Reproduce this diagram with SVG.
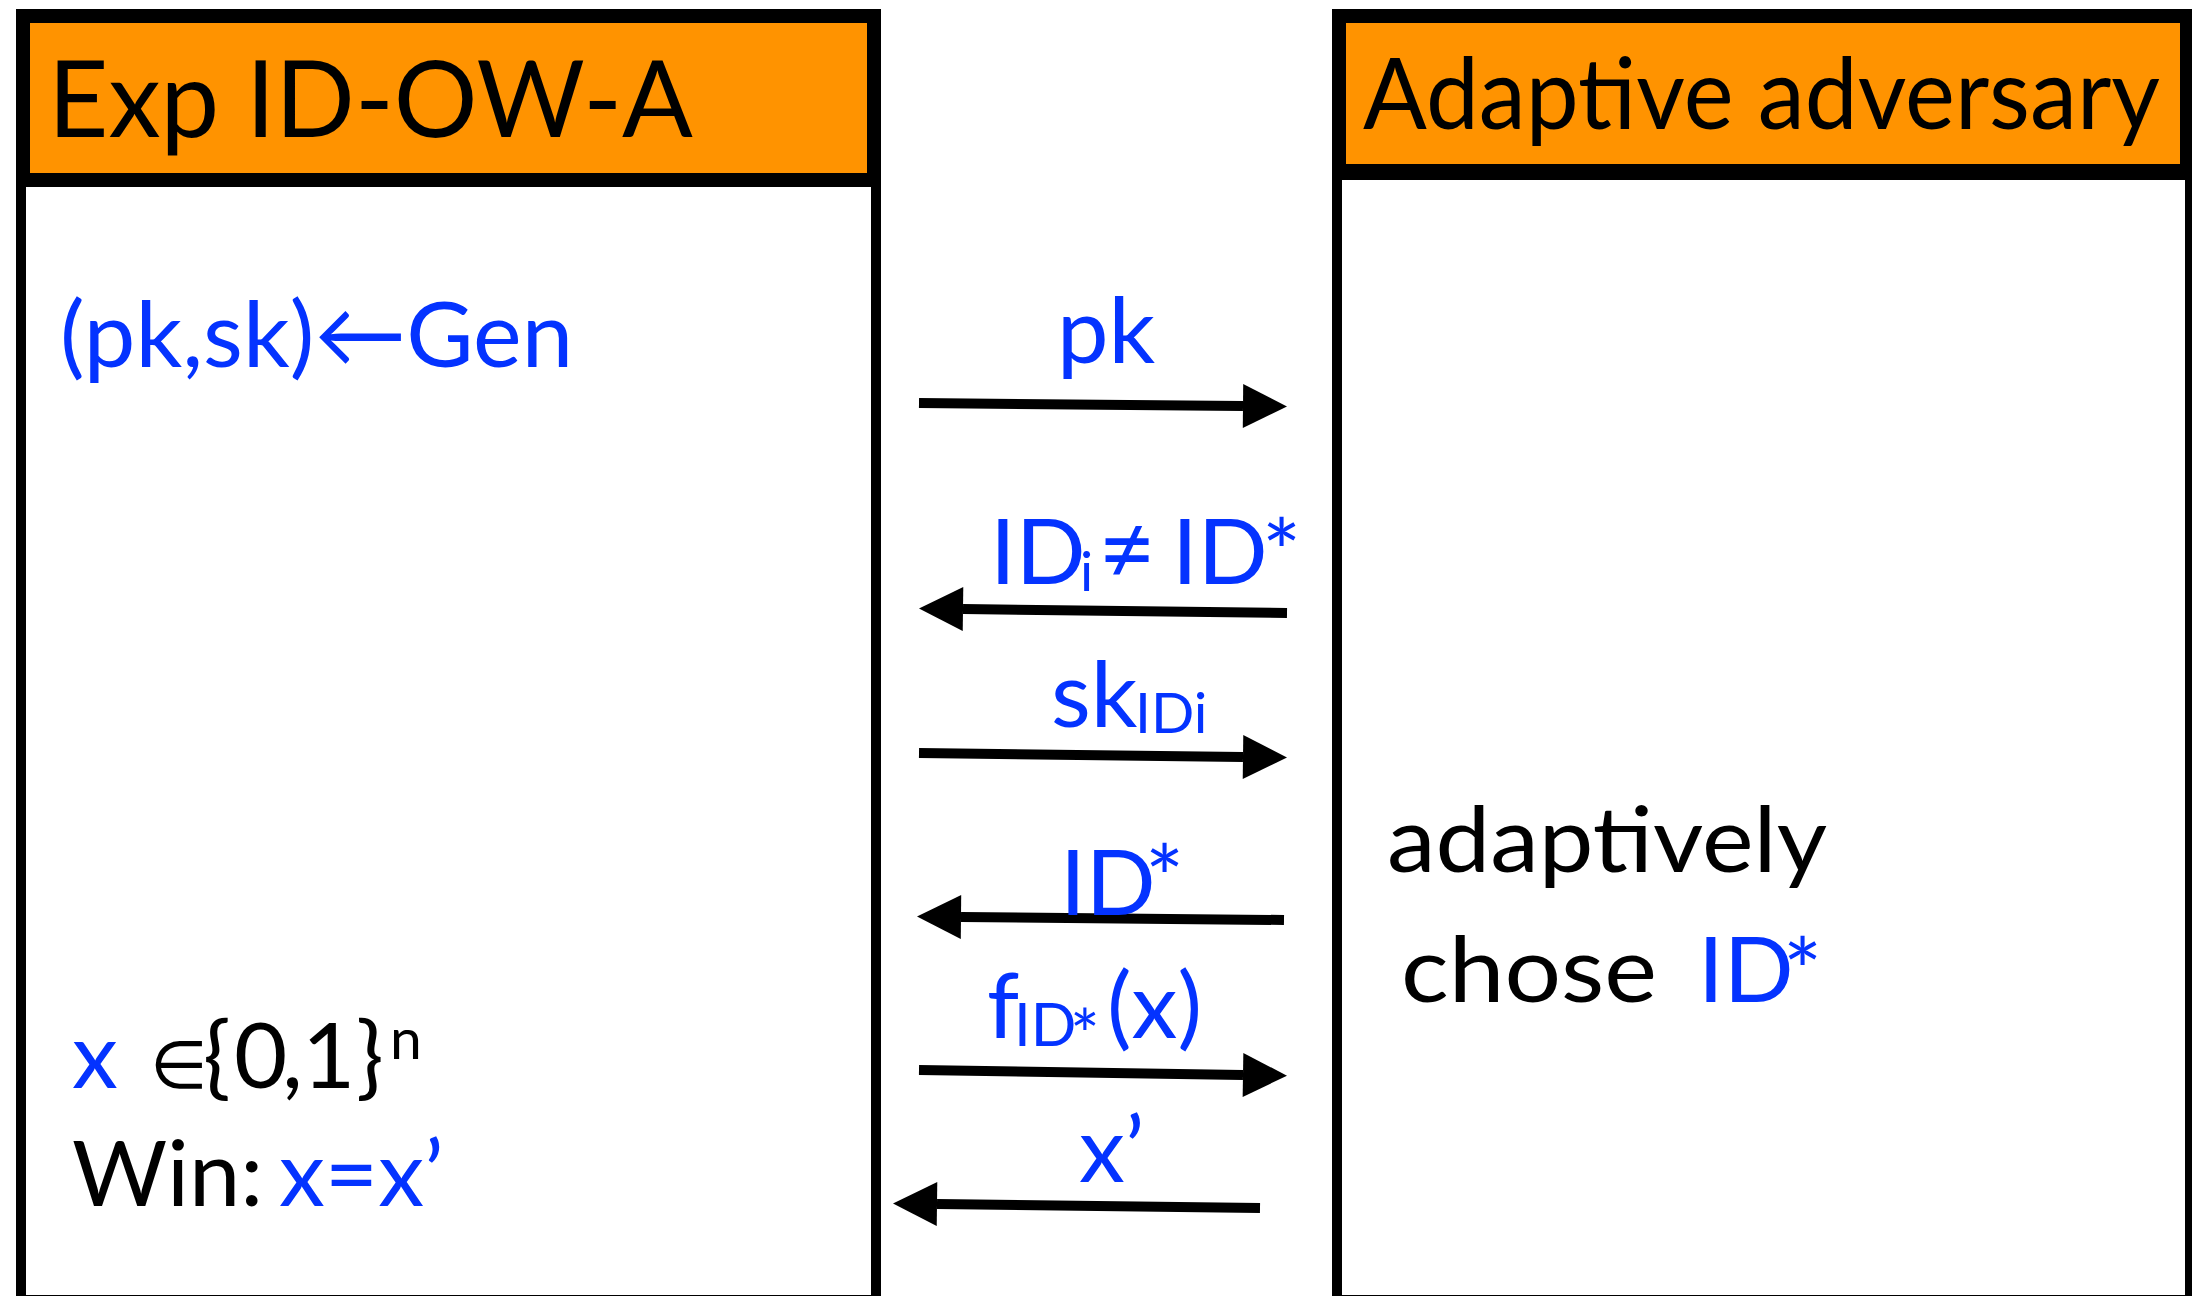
<svg xmlns="http://www.w3.org/2000/svg" width="2192" height="1296" viewBox="0 0 2192 1296">
<defs>
<style>
.t{font-family:Lato,"DejaVu Sans",sans-serif;font-size:92px;fill:#000}
.b{fill:#0433ff}
.head{fill:#ff9300;stroke:#000;stroke-width:14}
.body{fill:#fff;stroke:#000;stroke-width:10}
.conn{stroke:#000;stroke-width:10;fill:none;marker-end:url(#ah)}
</style>
<marker id="ah" markerUnits="userSpaceOnUse" markerWidth="46" markerHeight="46" refX="0" refY="22" orient="auto" overflow="visible">
<path d="M0,0 L44,22 L0,44 Z" fill="#000"/>
</marker>
</defs>
<rect width="2192" height="1296" fill="#fff"/>
<g id="experiment">
<rect class="body" x="21" y="180" width="855" height="1120"/>
<rect class="head" x="23" y="16" width="851" height="164"/>
<text class="t" x="48" y="137" style="font-size:106px" textLength="645" lengthAdjust="spacingAndGlyphs">Exp ID-OW-A</text>
<text class="t b" x="60" y="367" textLength="513" lengthAdjust="spacingAndGlyphs">(pk,sk)←Gen</text>
<text class="t" y="1088"><tspan class="b" x="72">x</tspan><tspan x="150" style="font-size:66px">∈</tspan><tspan x="203">{</tspan><tspan x="234">0</tspan><tspan x="282">,</tspan><tspan x="302">1</tspan><tspan x="356">}</tspan><tspan x="390" y="1059" style="font-size:57px">n</tspan></text>
<text class="t" x="72" y="1206">Win: <tspan class="b" x="279">x=x’</tspan></text>
</g>
<g id="adversary">
<rect class="body" x="1337" y="175" width="853" height="1125"/>
<rect class="head" x="1339" y="16" width="848" height="155"/>
<text class="t" x="1363" y="129" style="font-size:99px" textLength="797" lengthAdjust="spacingAndGlyphs">Adaptive adversary</text>
<text class="t" x="1387" y="872" textLength="440" lengthAdjust="spacingAndGlyphs">adaptively</text>
<text class="t" x="1401" y="1002"><tspan textLength="256" lengthAdjust="spacingAndGlyphs">chose</tspan><tspan class="b" x="1698">ID</tspan><tspan class="b" x="1783" y="1004">*</tspan></text>
</g>
<g id="connectors">
<line class="conn" x1="919" y1="403" x2="1243" y2="406"/>
<line class="conn" x1="1287" y1="613" x2="963" y2="609"/>
<line class="conn" x1="919" y1="753" x2="1243" y2="757"/>
<line class="conn" x1="1284" y1="920" x2="961" y2="917"/>
<line class="conn" x1="919" y1="1070" x2="1243" y2="1075"/>
<line class="conn" x1="1260" y1="1208" x2="937" y2="1204"/>
</g>
<g id="labels">
<text class="t b" x="1057" y="363">pk</text>
<text class="t b" x="990" y="584">ID<tspan x="1080" y="591" style="font-size:55px">i</tspan><tspan x="1098" y="584" style="font-size:100px">≠</tspan><tspan x="1172" y="584">ID</tspan><tspan x="1262" y="585">*</tspan></text>
<text class="t b" x="1051" y="727">sk<tspan x="1135" y="733" style="font-size:57px">IDi</tspan></text>
<text class="t b" x="1060" y="915">ID<tspan x="1145" y="911">*</tspan></text>
<text class="t b" x="987" y="1038">f<tspan x="1014" y="1046" style="font-size:60px">ID</tspan><tspan x="1070" y="1060" style="font-size:70px">*</tspan><tspan x="1107" y="1038">(x)</tspan></text>
<text class="t b" x="1079" y="1182">x’</text>
</g>
</svg>
